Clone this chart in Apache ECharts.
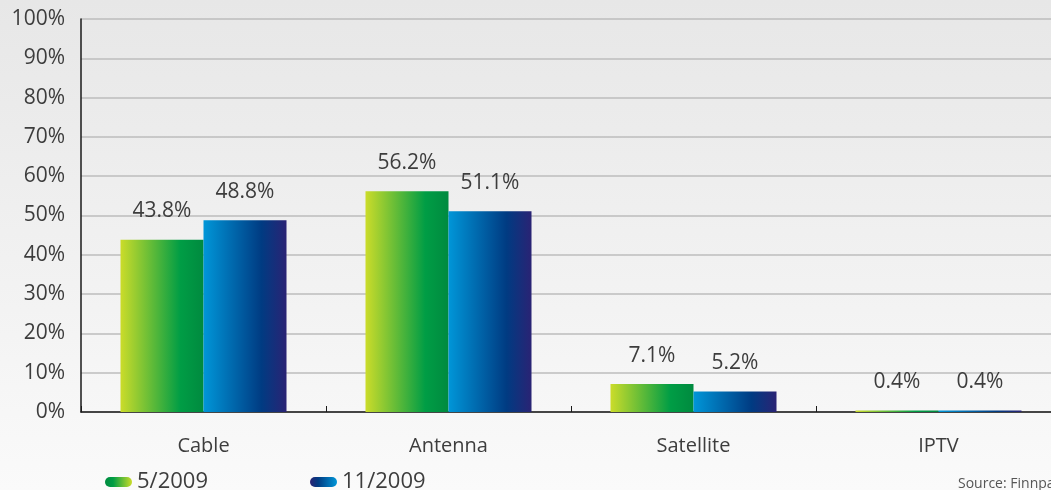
<!DOCTYPE html>
<html>
<head>
<meta charset="utf-8">
<script src="https://cdn.jsdelivr.net/npm/echarts@6/dist/echarts.min.js"></script>
<style>
html,body{margin:0;padding:0;background:#f0f0f0;}
#chart{width:1051px;height:490px;}
</style>
</head>
<body>
<div id="chart"></div>
<script>
const categories = ["Cable", "Antenna", "Satellite", "IPTV"];
const seriesNames = ["5/2009", "11/2009"];
const may2009 = [43.8, 56.2, 7.1, 0.4];
const nov2009 = [48.8, 51.1, 5.2, 0.4];
const yTicks = [0, 10, 20, 30, 40, 50, 60, 70, 80, 90, 100];
const sourceText = "Source: Finnpanel";

const FONT = "'Open Sans', sans-serif";
const TXT = "#3d3d3d";

function grad(stops) {
  return new echarts.graphic.LinearGradient(0, 0, 1, 0,
    stops.map(s => ({offset: s[0], color: s[1]})));
}
const greenBar = grad([[0, "#cbdc2a"], [0.72, "#009d45"], [1, "#008a3f"]]);
const blueBar = grad([[0, "#0096d8"], [0.7, "#003b82"], [1, "#2a2374"]]);
const greenIcon = grad([[0, "#008a3f"], [0.3, "#009d45"], [1, "#cbdc2a"]]);
const blueIcon = grad([[0, "#2a2374"], [0.3, "#003b82"], [1, "#0096d8"]]);
const pill = "path://M5,0 H22 A5,5 0 0 1 22,10 H5 A5,5 0 0 1 5,0 Z";

const chart = echarts.init(document.getElementById("chart"), null, {renderer: "canvas"});
const labelCfg = {
  show: true, position: "top", distance: 18,
  color: TXT, fontFamily: FONT, fontSize: 21,
  formatter: p => p.value.toFixed(1) + "%"
};
const legendText = {color: TXT, fontFamily: FONT, fontSize: 22};
chart.setOption({
  animation: false,
  backgroundColor: new echarts.graphic.LinearGradient(0, 0, 0, 1, [
    {offset: 0, color: "#e7e7e7"}, {offset: 1, color: "#fafafa"}
  ]),
  grid: {left: 81, width: 980, top: 19, height: 393, containLabel: false, outerBoundsMode: "none"},
  legend: [
    {left: 105, top: 471, padding: 0, itemWidth: 27, itemHeight: 10, itemGap: 8, icon: pill,
     textStyle: legendText,
     data: [{name: seriesNames[0], itemStyle: {color: greenIcon}}]},
    {left: 310, top: 471, padding: 0, itemWidth: 27, itemHeight: 10, itemGap: 8, icon: pill,
     textStyle: legendText,
     data: [{name: seriesNames[1], itemStyle: {color: blueIcon}}]}
  ],
  graphic: [{
    type: "text", left: 958, top: 477,
    style: {text: sourceText, fill: "#555", font: "14px " + FONT}
  }],
  xAxis: {
    type: "category", data: categories,
    axisLine: {lineStyle: {color: "#1a1a1a", width: 1.5}},
    axisTick: {show: true, inside: true, length: 6, lineStyle: {color: "#1a1a1a"}},
    axisLabel: {color: TXT, fontFamily: FONT, fontSize: 20, margin: 24}
  },
  yAxis: {
    type: "value", min: yTicks[0], max: yTicks[yTicks.length - 1], interval: 10,
    axisLine: {show: true, lineStyle: {color: "#1a1a1a", width: 1.5}},
    axisTick: {show: false},
    splitLine: {lineStyle: {color: "#bcbcbc", width: 1.5}},
    axisLabel: {color: TXT, fontFamily: FONT, fontSize: 21, margin: 16,
      formatter: v => v + "%"}
  },
  series: [
    {name: seriesNames[0], type: "bar", data: may2009, barWidth: 83, barGap: "0%",
     itemStyle: {color: greenBar}, label: labelCfg},
    {name: seriesNames[1], type: "bar", data: nov2009, barWidth: 83, barGap: "0%",
     itemStyle: {color: blueBar}, label: labelCfg}
  ]
});
</script>
</body>
</html>
